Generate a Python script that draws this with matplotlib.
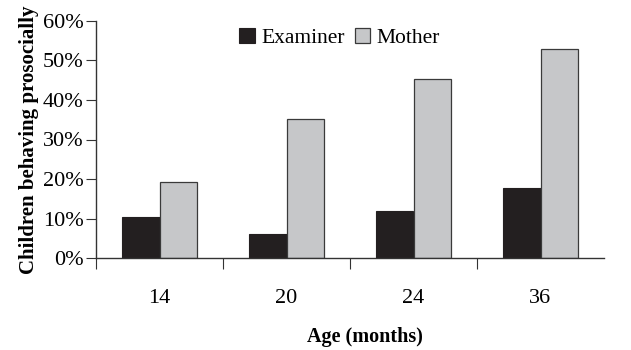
import numpy as np
import matplotlib.pyplot as plt
from matplotlib.ticker import PercentFormatter

plt.rcParams['font.family'] = ['Liberation Serif', 'DejaVu Serif']

ages = ['14', '20', '24', '36']
examiner = [10.4, 6.1, 11.9, 17.8]
mother = [19.3, 35.1, 45.4, 52.8]

fig = plt.figure(figsize=(6.31, 3.5), dpi=100)
ax = fig.add_axes([96 / 631, 1 - 258.3 / 350, 508 / 631, (258.3 - 20.7) / 350])

x = np.arange(len(ages))
w = 0.295
ax.bar(x - w / 2, examiner, w, color='#231f20', edgecolor='#231f20', linewidth=0.8, label='Examiner')
ax.bar(x + w / 2, mother, w, color='#c6c7c9', edgecolor='#3a3a3a', linewidth=0.9, label='Mother')

ax.set_xlim(-0.5, 3.5)
ax.set_ylim(0, 60)
ax.set_yticks(range(0, 61, 10))
ax.yaxis.set_major_formatter(PercentFormatter(decimals=0))
ax.set_xticks(np.arange(-0.5, 3.5, 1.0))
ax.set_xticklabels([])
ax.set_xticks(x, minor=True)
ax.set_xticklabels(ages, minor=True)
ax.tick_params(axis='x', which='minor', length=0, pad=22, labelsize=16)
ax.tick_params(axis='x', which='major', length=8, direction='out', color='#333333')
ax.tick_params(axis='y', length=7, direction='out', labelsize=16, pad=2, color='#333333')

for s in ['top', 'right']:
    ax.spines[s].set_visible(False)
for s in ['left', 'bottom']:
    ax.spines[s].set_color('#333333')
    ax.spines[s].set_linewidth(1.0)

ax.set_ylabel('Children behaving prosocially', fontsize=15, fontweight='bold', labelpad=3)
ax.set_xlabel('Age (months)', fontsize=14.5, fontweight='bold')
ax.xaxis.set_label_coords(0.53, -0.288)

ax.legend(loc='upper center', bbox_to_anchor=(0.48, 1.05), ncol=2, frameon=False,
          fontsize=15.5, handlelength=0.7, handleheight=0.7, handletextpad=0.3,
          columnspacing=0.5)

fig.savefig('out.png', dpi=100)
